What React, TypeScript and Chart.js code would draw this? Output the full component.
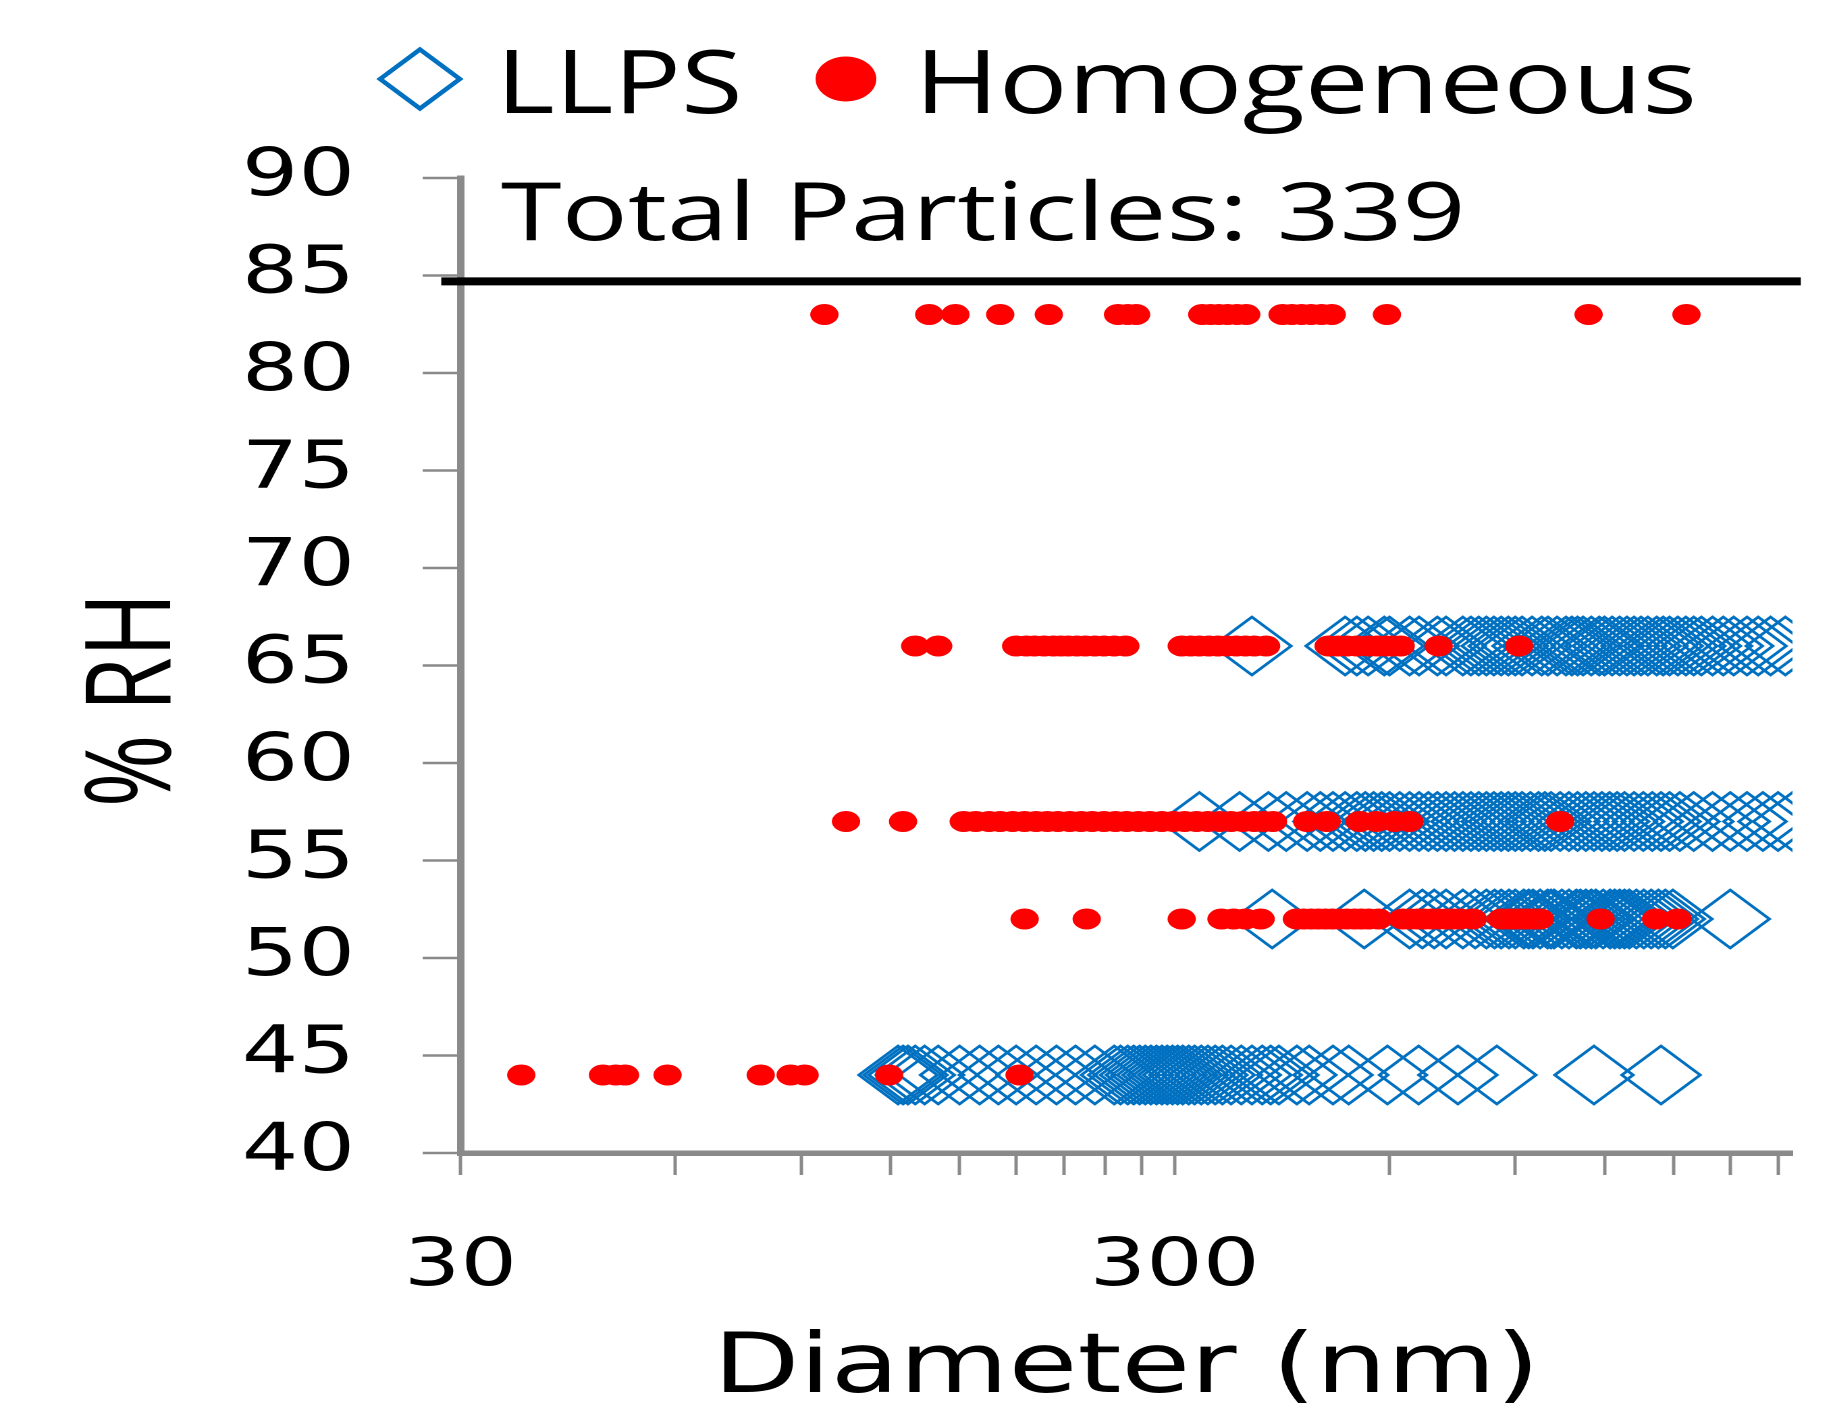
import React, { useEffect, useRef } from 'react';
import { Chart, registerables } from 'chart.js';

Chart.register(...registerables);

// ---- output geometry (the reference is horizontally stretched) ----
const STRETCH = 1.35;
const OUT_W = 1835;
const OUT_H = 1412;
const CW = Math.round(OUT_W / STRETCH); // internal drawing width

// ---- data ----
const rhLevels = [83, 66, 57, 52, 44];

const homog83 = [97, 136, 148, 171, 200, 250, 258, 265, 328, 337, 346, 356, 367, 378, 425, 438, 452, 466, 482, 498, 595, 1140, 1563];
const homog66 = [130, 140, 180, 186, 191, 197, 203, 208, 213, 219, 225, 232, 239, 247, 256, 307, 316, 325, 335, 345, 355, 366, 377, 388, 403, 493, 508, 523, 540, 560, 576, 593, 607, 622, 703, 911];
const homog57 = [104, 125, 152, 158, 165, 171, 178, 185, 192, 199, 206, 214, 222, 230, 239, 248, 257, 267, 277, 288, 299, 310, 322, 334, 347, 360, 374, 388, 400, 412, 460, 490, 545, 575, 610, 640, 1040];
const homog52 = [185, 226, 307, 349, 363, 377, 396, 445, 455, 466, 477, 488, 499, 511, 523, 536, 548, 561, 579, 626, 641, 656, 671, 687, 703, 720, 737, 754, 785, 861, 882, 902, 920, 938, 956, 975, 1185, 1417, 1520];
const homog44 = [36.5, 47.5, 49.5, 51, 58.5, 79, 87, 91, 119.5, 182];

const llps66 = [385, 520, 540, 560, 590, 600, 640, 660, 700, 720, 760, 780, 800, 820, 840, 860, 880, 900, 920, 950, 980, 1000, 1030, 1060, 1080, 1100, 1120, 1150, 1180, 1200, 1230, 1260, 1290, 1320, 1350, 1380, 1420, 1450, 1480, 1520, 1560, 1600, 1640, 1700, 1760, 1820, 1900, 1970, 2050, 2150];
const llps57 = [325, 370, 406, 430, 460, 480, 500, 520, 540, 555, 570, 585, 600, 620, 640, 660, 680, 700, 720, 740, 760, 780, 800, 820, 840, 860, 880, 900, 920, 945, 970, 990, 1010, 1040, 1070, 1100, 1130, 1160, 1190, 1220, 1250, 1280, 1320, 1360, 1400, 1440, 1480, 1530, 1600, 1700, 1800, 1900, 2000, 2100, 2200];
const llps52 = [411, 553, 640, 667, 693, 720, 760, 791, 820, 842, 860, 882, 900, 925, 940, 953, 975, 999, 1010, 1020, 1046, 1070, 1096, 1110, 1130, 1150, 1167, 1195, 1222, 1240, 1260, 1280, 1300, 1330, 1362, 1395, 1428, 1460, 1496, 1800];
const llps44 = [123, 125, 127, 130, 134, 140, 150, 160, 170, 180, 192, 205, 218, 232, 247, 252, 258, 263, 268, 273, 278, 283, 288, 293, 298, 303, 308, 314, 320, 327, 334, 342, 350, 360, 372, 385, 398, 409, 420, 445, 463, 500, 526, 596, 659, 748, 848, 1160, 1440];

const thresholdRH = 84.7;
const thresholdX = [28.2, 2260];

const xMin = 30;
const xMax = 2200;
const xTickValues = [30, 60, 90, 120, 150, 180, 210, 240, 270, 300, 600, 900, 1200, 1500, 1800, 2100];
const xTickLabels = ['30', '', '', '', '', '', '', '', '', '300', '', '', '', '', '', ''];
const yMin = 40;
const yMax = 90;
const yStep = 5;

const seriesNames = ['LLPS', 'Homogeneous'];
const annotationText = 'Total Particles: 339';
const xTitle = 'Diameter (nm)';
const yTitle = '% RH';

// ---- style ----
const BLUE = '#0070C0';
const RED = '#FF0000';
const AXIS = '#8a8a8a';

const overlayPlugin = {
  id: 'overlay',
  afterDraw(chart: any) {
    const ctx = chart.ctx as CanvasRenderingContext2D;
    const fitText = (text: string, font: string, left: number, right: number, baseline: number) => {
      ctx.save();
      ctx.font = font;
      ctx.textAlign = 'left';
      ctx.textBaseline = 'alphabetic';
      const m = ctx.measureText(text);
      const ink = m.actualBoundingBoxLeft + m.actualBoundingBoxRight;
      const sx = (right - left) / ink;
      ctx.translate(left, baseline);
      ctx.scale(sx, 1);
      ctx.fillStyle = '#000';
      ctx.fillText(text, m.actualBoundingBoxLeft, 0);
      ctx.restore();
    };

    // legend: LLPS diamond
    ctx.save();
    ctx.strokeStyle = BLUE;
    ctx.lineWidth = 4;
    const dx = 311, dy = 79, r = 29.5;
    ctx.beginPath();
    ctx.moveTo(dx - r, dy);
    ctx.lineTo(dx, dy - r);
    ctx.lineTo(dx + r, dy);
    ctx.lineTo(dx, dy + r);
    ctx.closePath();
    ctx.stroke();
    // legend: Homogeneous dot
    ctx.fillStyle = RED;
    ctx.beginPath();
    ctx.arc(626.5, 79, 22.5, 0, Math.PI * 2);
    ctx.fill();
    ctx.restore();

    fitText(seriesNames[0], '88px "Open Sans"', 375, 547, 113);
    fitText(seriesNames[1], '88px "Open Sans"', 685, 1253, 113);
    fitText(annotationText, '81px "Open Sans"', 371, 1081, 240);
  },
};

export default function App() {
  const ref = useRef<HTMLCanvasElement>(null);

  useEffect(() => {
    document.body.style.margin = '0';
    const canvas = ref.current;
    if (!canvas) return;

    const toPts = (xs: number[], y: number) => xs.map((x) => ({ x, y }));
    const homogRows = [homog83, homog66, homog57, homog52, homog44];
    const llpsRows = [null, llps66, llps57, llps52, llps44];
    const homogData: { x: number; y: number }[] = [];
    const llpsData: { x: number; y: number }[] = [];
    rhLevels.forEach((rh, i) => {
      homogData.push(...toPts(homogRows[i], rh));
      const l = llpsRows[i];
      if (l) llpsData.push(...toPts(l, rh));
    });

    const chart = new Chart(canvas, {
      type: 'scatter',
      data: {
        datasets: [
          {
            label: seriesNames[0],
            data: llpsData,
            pointStyle: 'rectRot',
            pointRadius: 29,
            pointBorderWidth: 2.5,
            borderColor: BLUE,
            backgroundColor: 'rgba(0,0,0,0)',
            order: 1,
          },
          {
            label: seriesNames[1],
            data: homogData,
            pointStyle: 'circle',
            pointRadius: 10.5,
            pointBorderWidth: 0,
            borderWidth: 0,
            backgroundColor: RED,
            borderColor: RED,
            order: 0,
          },
          {
            type: 'line',
            label: 'threshold',
            data: thresholdX.map((x) => ({ x, y: thresholdRH })),
            borderColor: '#000',
            borderWidth: 8,
            pointRadius: 0,
            clip: false,
            order: 2,
          } as any,
        ],
      },
      options: {
        animation: false,
        responsive: false,
        devicePixelRatio: 2,
        events: [],
        layout: { padding: { top: 178, right: CW - 1332, bottom: 0, left: 0 } },
        plugins: {
          legend: { display: false },
          tooltip: { enabled: false },
        },
        scales: {
          x: {
            type: 'logarithmic',
            position: 'bottom',
            min: xMin,
            max: xMax,
            afterBuildTicks: (s: any) => {
              s.ticks = xTickValues.map((v) => ({ value: v }));
            },
            afterFit: (s: any) => {
              s.height = OUT_H - 1153;
              s.paddingLeft = 0;
              s.paddingRight = 0;
            },
            ticks: {
              autoSkip: false,
              maxRotation: 0,
              minRotation: 0,
              padding: 60,
              color: '#000',
              font: { family: 'DejaVu Sans', size: 66, lineHeight: 1 },
              callback: (_v: any, i: number) => xTickLabels[i] ?? '',
            },
            grid: {
              display: true,
              drawOnChartArea: false,
              drawTicks: true,
              tickLength: 22,
              tickWidth: 2.5,
              tickColor: AXIS,
              color: AXIS,
            },
            border: { display: true, color: AXIS, width: 5.5 },
            title: {
              display: true,
              text: xTitle,
              color: '#000',
              font: { family: 'DejaVu Sans', size: 83, lineHeight: 1 },
              padding: { top: 0, bottom: 0 },
            },
          },
          y: {
            type: 'linear',
            min: yMin,
            max: yMax,
            afterFit: (s: any) => {
              s.width = 341;
              s.paddingTop = 0;
              s.paddingBottom = 0;
            },
            ticks: {
              stepSize: yStep,
              padding: 50,
              color: '#000',
              font: { family: 'DejaVu Sans', size: 66, lineHeight: 1 },
            },
            grid: {
              display: true,
              drawOnChartArea: false,
              drawTicks: true,
              tickLength: 28,
              tickWidth: 2.5,
              tickColor: AXIS,
              color: AXIS,
            },
            border: { display: true, color: AXIS, width: 5.5 },
            title: {
              display: true,
              text: yTitle + '\u00A0\u00A0\u00A0',
              color: '#000',
              font: { family: 'Open Sans', size: 88, lineHeight: 1 },
              padding: { top: 57, bottom: 0 },
            },
          },
        },
      },
      plugins: [overlayPlugin],
    } as any);

    return () => chart.destroy();
  }, []);

  return (
    <div style={{ width: OUT_W, height: OUT_H, overflow: 'hidden', background: '#fff' }}>
      <canvas
        ref={ref}
        width={CW}
        height={OUT_H}
        style={{ width: OUT_W + 'px', height: OUT_H + 'px', display: 'block' }}
      />
    </div>
  );
}
